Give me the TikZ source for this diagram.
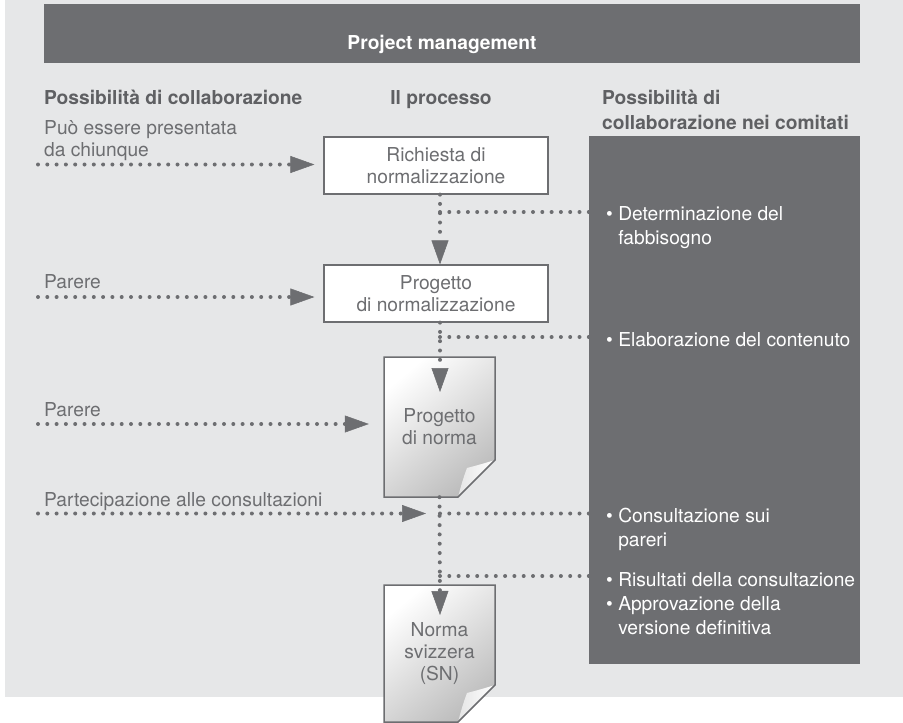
\documentclass[tikz,border=0pt]{standalone}
\usepackage{fontspec}
\setmainfont{TeX Gyre Heros}
\usetikzlibrary{arrows,arrows.meta,positioning}
\definecolor{bggray}{HTML}{E6E7E8}
\definecolor{panel}{HTML}{6D6E71}
\definecolor{txtgray}{HTML}{6D6E71}
\definecolor{headgray}{HTML}{5F6063}
\tikzset{every node/.append style={inner sep=0pt,font=\fontsize{19.2}{22}\selectfont}}
\tikzset{dotline/.style={draw=panel,line width=4pt,line cap=round,dash pattern=on 0pt off 9.3pt}}
\tikzset{dotarrow/.style={dotline,-{Triangle[length=24pt,width=17pt,line width=0.5pt]}}}
\tikzset{stepbox/.style={draw=panel,line width=1.2pt,fill=white,minimum width=224pt,minimum height=57pt,align=center,text=txtgray}}
\tikzset{docsheet/.style={minimum width=111pt,minimum height=140pt,align=center,text=txtgray}}
\tikzset{colhead/.style={font=\fontsize{19.2}{25}\selectfont\bfseries,text=headgray,align=left,anchor=base west}}
\tikzset{lefttext/.style={text=txtgray,align=left,anchor=base west}}
\tikzset{bullettext/.style={font=\fontsize{19.2}{24}\selectfont,text=white,align=left,anchor=base west}}

\begin{document}
\begin{tikzpicture}[x=1pt,y=-1pt]
\pgfmathsetmacro{\LINEX}{440}
\useasboundingbox (0,0) rectangle (903,723);
\fill[bggray] (5,0) rectangle (903,697);
\node[fill=panel,minimum width=816pt,minimum height=59pt,anchor=north west] (pmbar) at (44,4) {};
\node[font=\fontsize{19.2}{22}\selectfont\bfseries,text=white,anchor=base] (pm) at (442,49) {Project management};
\node[fill=panel,minimum width=271pt,minimum height=528pt,anchor=north west] (comitati) at (589,136) {};

% column heads (base = last line)
\node[colhead] (hleft) at (44,104) {Possibilità di collaborazione};
\node[colhead,anchor=base] (hmid) at (441,104) {Il processo};
\node[colhead] (hright) at (602,129) {Possibilità di\\collaborazione nei comitati};

\node[lefttext] (t1) at (44,156) {Può essere presentata\\da chiunque};
\node[lefttext] (t2) at (44,288) {Parere};
\node[lefttext] (t3) at (44,416) {Parere};
\node[lefttext] (t4) at (44,506) {Partecipazione alle consultazioni};

\node[stepbox] (req) at (436,165.5) {Richiesta di\\normalizzazione};
\node[stepbox] (prog) at (436,293.5) {Progetto\\di normalizzazione};

\foreach \t/\h in {357/140,585/137} {
  \shade[top color=white,middle color=white,bottom color=black!26,shading angle=40]
    (384,\t) -- ++(111,0) -- ++(0,\h-37) -- ++(-37,37) -- ++(-74,0) -- cycle;
  \shade[left color=black!10,right color=white]
    (495,\t+\h-37) .. controls (482,\t+\h-33) .. (467,\t+\h-29) .. controls (463,\t+\h-18) .. (458,\t+\h) -- cycle;
  \draw[panel,line width=1.5pt] (384,\t) -- ++(111,0) -- ++(0,\h-37) -- ++(-37,37) -- ++(-74,0) -- cycle;
}
\node[docsheet] (pdoc) at (439.5,427) {Progetto\\di norma};
\node[docsheet,minimum height=137pt] (sn) at (439.5,653.5) {Norma\\svizzera\\(SN)};

\coordinate (l1) at (38,164.5);
\coordinate (l2) at (38,297);
\coordinate (l3) at (38,424);
\coordinate (l4) at (38,513.5);
\coordinate (d1) at (\LINEX,212);
\coordinate (d2) at (\LINEX,337);
\coordinate (d3) at (\LINEX,513.5);
\coordinate (d4) at (\LINEX,576);
\coordinate (tip2) at (\LINEX,392);
\coordinate (tip3) at (\LINEX,615);

\draw[dotarrow,shorten >=9pt] (l1) -- (l1 -| req.west);
\draw[dotarrow,shorten >=9pt] (l2) -- (l2 -| prog.west);
\draw[dotarrow,shorten >=15pt] (l3) -- (l3 -| pdoc.west);
\draw[dotarrow,shorten >=14pt] (l4) -- (d3);

\draw[dotarrow] (req.south -| d1) -- (prog.north -| d1);
\draw[dotarrow] (prog.south -| d2) -- (tip2);
\draw[dotarrow] (pdoc.south) -- (tip3);

\draw[dotline] (d1) -- (d1 -| comitati.west);
\draw[dotline] (d2) -- (d2 -| comitati.west);
\draw[dotline] (d3) -- (d3 -| comitati.west);
\draw[dotline] (d4) -- (d4 -| comitati.west);

\node[bullettext] (b1) at (606,244) {\textbullet\ Determinazione del\\\phantom{\textbullet\ }fabbisogno};
\node[bullettext] (b2) at (606,346) {\textbullet\ Elaborazione del contenuto};
\node[bullettext] (b3) at (606,546) {\textbullet\ Consultazione sui\\\phantom{\textbullet\ }pareri};
\node[bullettext] (b4) at (606,634) {\textbullet\ Risultati della consultazione\\\textbullet\ Approvazione della\\\phantom{\textbullet\ }versione definitiva};
\end{tikzpicture}
\end{document}
